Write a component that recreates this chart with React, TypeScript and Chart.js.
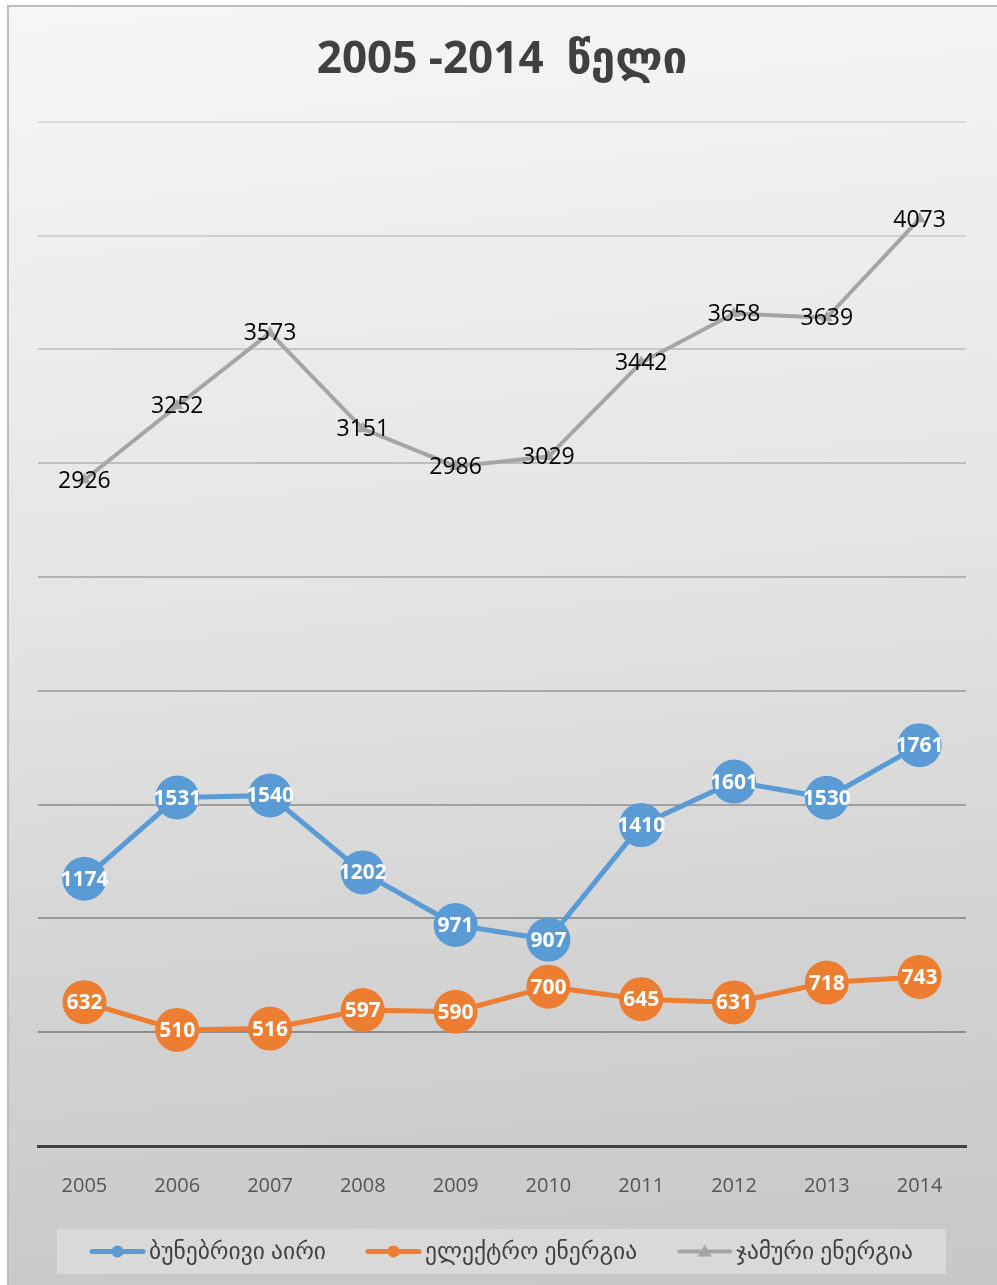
import React, { useEffect, useRef } from 'react';
import { Chart, registerables } from 'chart.js';

Chart.register(...registerables);

const years = ['2005', '2006', '2007', '2008', '2009', '2010', '2011', '2012', '2013', '2014'];
const gasValues = [1174, 1531, 1540, 1202, 971, 907, 1410, 1601, 1530, 1761];
const electricityValues = [632, 510, 516, 597, 590, 700, 645, 631, 718, 743];
const totalValues = [2926, 3252, 3573, 3151, 2986, 3029, 3442, 3658, 3639, 4073];
const seriesLabels = ['ბუნებრივი აირი', 'ელექტრო ენერგია', 'ჯამური ენერგია'];
const seriesColors = ['#5B9BD5', '#ED7D31', '#A5A5A5'];
const titleText = '2005 -2014  წელი';
const yMax = 4500;
const yStep = 500;

const FONT = '"Open Sans", "DejaVu Sans", sans-serif';

const dataLabelPlugin = {
  id: 'dataLabels',
  afterDatasetsDraw(chart: any) {
    const ctx = chart.ctx;
    chart.data.datasets.forEach((ds: any, i: number) => {
      const meta = chart.getDatasetMeta(i);
      meta.data.forEach((pt: any, j: number) => {
        ctx.save();
        if (i === 2) {
          ctx.font = `23px ${FONT}`;
          ctx.fillStyle = '#000000';
        } else {
          ctx.font = `bold 21px ${FONT}`;
          ctx.fillStyle = '#ffffff';
        }
        ctx.textAlign = 'center';
        ctx.textBaseline = 'middle';
        ctx.fillText(String(ds.data[j]), pt.x, pt.y + 1);
        ctx.restore();
      });
    });
  },
};

const legendPlugin = {
  id: 'customLegend',
  afterDraw(chart: any) {
    const { ctx, chartArea } = chart;
    const top = chartArea.bottom + 83;
    const h = 45;
    const left = chartArea.left + 19;
    const right = chartArea.right - 20;
    ctx.save();
    ctx.fillStyle = '#d9d9d9';
    ctx.fillRect(left, top, right - left, h);
    ctx.font = `23.5px ${FONT}`;
    ctx.textBaseline = 'middle';
    ctx.textAlign = 'left';
    const sample = 55;
    const gap = 4;
    const spacing = 40;
    const widths = chart.data.datasets.map((ds: any) => sample + gap + ctx.measureText(ds.label).width);
    const total = widths.reduce((a: number, b: number) => a + b, 0) + spacing * (widths.length - 1);
    let x = (left + right) / 2 - total / 2;
    const cy = top + h / 2;
    chart.data.datasets.forEach((ds: any, i: number) => {
      const color = ds.borderColor;
      ctx.strokeStyle = color;
      ctx.fillStyle = color;
      ctx.lineCap = 'round';
      ctx.lineWidth = i === 2 ? 4 : 5;
      ctx.beginPath();
      ctx.moveTo(x + 2, cy);
      ctx.lineTo(x + sample - 2, cy);
      ctx.stroke();
      const mx = x + sample / 2;
      if (i === 2) {
        ctx.beginPath();
        ctx.moveTo(mx, cy - 7);
        ctx.lineTo(mx + 7, cy + 5);
        ctx.lineTo(mx - 7, cy + 5);
        ctx.closePath();
        ctx.fill();
      } else {
        ctx.beginPath();
        ctx.arc(mx, cy, 6, 0, Math.PI * 2);
        ctx.fill();
      }
      ctx.fillStyle = '#404040';
      ctx.fillText(ds.label, x + sample + gap, cy + 1);
      x += widths[i] + spacing;
    });
    ctx.restore();
  },
};

function gridColor(ctx: any) {
  const v = ctx.tick ? ctx.tick.value : 0;
  if (v === 0) return 'rgba(0,0,0,0)';
  const c = Math.round(140 + ((v - 500) / 4000) * 78);
  return `rgb(${c},${c},${c})`;
}

export default function App() {
  const canvasRef = useRef<HTMLCanvasElement>(null);

  useEffect(() => {
    if (!canvasRef.current) return;
    const chart = new Chart(canvasRef.current, {
      type: 'line',
      data: {
        labels: years,
        datasets: [
          {
            label: seriesLabels[0],
            data: gasValues,
            borderColor: seriesColors[0],
            backgroundColor: seriesColors[0],
            borderWidth: 5,
            pointRadius: 22,
            pointHoverRadius: 22,
            pointBorderWidth: 0,
            pointBackgroundColor: seriesColors[0],
            tension: 0,
          },
          {
            label: seriesLabels[1],
            data: electricityValues,
            borderColor: seriesColors[1],
            backgroundColor: seriesColors[1],
            borderWidth: 5,
            pointRadius: 22,
            pointHoverRadius: 22,
            pointBorderWidth: 0,
            pointBackgroundColor: seriesColors[1],
            tension: 0,
          },
          {
            label: seriesLabels[2],
            data: totalValues,
            borderColor: seriesColors[2],
            backgroundColor: seriesColors[2],
            borderWidth: 4,
            pointStyle: 'triangle',
            pointRadius: 7,
            pointBorderWidth: 0,
            pointBackgroundColor: seriesColors[2],
            tension: 0,
          },
        ],
      },
      options: {
        responsive: true,
        maintainAspectRatio: false,
        animation: false,
        layout: { padding: { left: 29, right: 31, top: 27, bottom: 59 } },
        plugins: {
          legend: { display: false },
          tooltip: { enabled: false },
          title: {
            display: true,
            text: titleText,
            color: '#404040',
            font: { family: FONT, size: 44, weight: 'bold' },
            padding: { top: 0, bottom: 35 },
          },
        },
        scales: {
          x: {
            offset: true,
            grid: { display: true, color: 'rgba(0,0,0,0)', drawTicks: false },
            border: { display: true, color: '#404040', width: 3 },
            ticks: { color: '#555555', font: { family: FONT, size: 20 }, padding: 28 },
          },
          y: {
            min: 0,
            max: yMax,
            ticks: { display: false, stepSize: yStep },
            border: { display: false },
            grid: { color: gridColor, lineWidth: 2, drawTicks: false },
          },
        },
      },
      plugins: [dataLabelPlugin, legendPlugin],
    });
    return () => chart.destroy();
  }, []);

  return (
    <div
      style={{
        position: 'fixed',
        left: 7,
        top: 5,
        right: -6,
        bottom: 0,
        borderLeft: '2px solid #bcbcbc',
        borderTop: '2px solid #bcbcbc',
        background: 'linear-gradient(175deg, #f6f6f6 0%, #e4e4e4 45%, #d2d2d2 75%, #c7c7c7 100%)',
        overflow: 'hidden',
      }}
    >
      <div style={{ position: 'absolute', left: 0, top: 0, width: 988, bottom: 0 }}>
        <canvas ref={canvasRef} style={{ display: 'block', width: '100%', height: '100%' }} />
      </div>
    </div>
  );
}
